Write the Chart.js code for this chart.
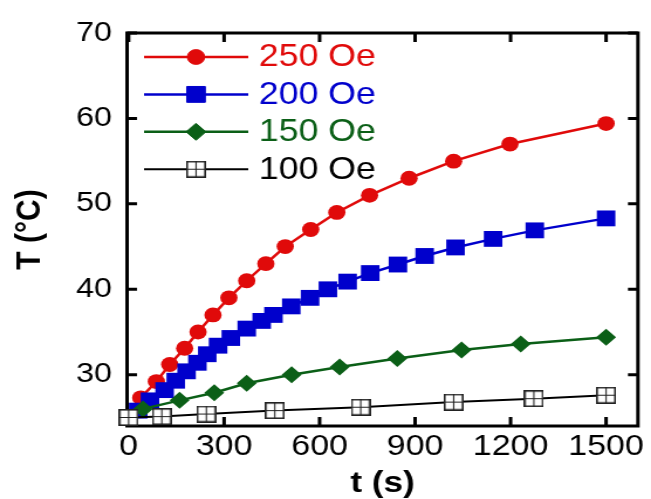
<!DOCTYPE html>
<html>
<head>
<meta charset="utf-8">
<script src="https://cdn.jsdelivr.net/npm/chart.js@4.4.1/dist/chart.umd.min.js"></script>
<style>
    html, body { margin: 0; padding: 0; background: #fff; overflow: hidden; }
    /* the source figure is stretched sideways, so the canvas is too */
    #chart { transform: scaleX(1.1709); transform-origin: 0 0; }
</style>
</head>
<body>
<canvas id="chart" width="556" height="499"></canvas>
<script>
const timeTicks = [0, 300, 600, 900, 1200, 1500];
const tempTicks = [30, 40, 50, 60, 70];
const fieldLabels = ['250 Oe', '200 Oe', '150 Oe', '100 Oe'];

const time250 = [38, 87, 129, 176, 218, 265, 315, 371, 431, 492, 572, 654, 757, 881, 1021, 1198, 1500];
const temp250 = [27.3, 29.2, 31.2, 33.1, 35.0, 37.0, 39.0, 41.0, 43.0, 45.0, 47.0, 49.0, 51.0, 53.0, 55.0, 57.0, 59.4];

const time200 = [30, 67, 113, 148, 182, 216, 247, 281, 321, 371, 418, 455, 511, 570, 626, 688, 759, 846, 930, 1027, 1145, 1276, 1500];
const temp200 = [25.8, 27.0, 28.2, 29.3, 30.4, 31.4, 32.4, 33.4, 34.3, 35.4, 36.3, 37.0, 38.0, 39.0, 40.0, 40.9, 41.9, 42.9, 43.9, 44.9, 45.9, 46.9, 48.3];

const time150 = [45, 160, 269, 371, 512, 663, 844, 1046, 1232, 1500];
const temp150 = [26.0, 27.0, 27.9, 29.0, 30.0, 30.9, 31.9, 32.9, 33.6, 34.4];

const time100 = [0, 104, 244, 459, 729, 1021, 1273, 1500];
const temp100 = [25.0, 25.1, 25.4, 25.8, 26.2, 26.8, 27.2, 27.6];

const FONT = '"Liberation Sans", Arial, sans-serif';

function toPoints(xs, ys) {
    return xs.map((x, i) => ({ x, y: ys[i] }));
}

// open square with a cross inside, used for the 100 Oe series
function makeBoxPlus(size) {
    const c = document.createElement('canvas');
    c.width = size;
    c.height = size;
    const g = c.getContext('2d');
    g.fillStyle = '#fff';
    g.fillRect(0, 0, size, size);
    g.strokeStyle = '#222';
    g.lineWidth = 1.6;
    g.strokeRect(0.8, 0.8, size - 1.6, size - 1.6);
    g.lineWidth = 1.1;
    g.beginPath();
    g.moveTo(size / 2, 1);
    g.lineTo(size / 2, size - 1);
    g.moveTo(1, size / 2);
    g.lineTo(size - 1, size / 2);
    g.stroke();
    return c;
}

const boxPlus = makeBoxPlus(17);

const framePlugin = {
    id: 'frame',
    beforeDatasetsDraw(chart) {
        const { ctx, chartArea: a, scales: { x, y } } = chart;
        ctx.save();
        ctx.strokeStyle = '#000';
        ctx.lineWidth = 3;
        ctx.strokeRect(a.left, a.top, a.right - a.left, a.bottom - a.top);
        ctx.beginPath();
        timeTicks.forEach((v) => {
            const px = x.getPixelForValue(v);
            ctx.moveTo(px, a.bottom);
            ctx.lineTo(px, a.bottom - 9);
            ctx.moveTo(px, a.top);
            ctx.lineTo(px, a.top + 9);
        });
        tempTicks.forEach((v) => {
            const py = y.getPixelForValue(v);
            ctx.moveTo(a.left, py);
            ctx.lineTo(a.left + 8.5, py);
            ctx.moveTo(a.right, py);
            ctx.lineTo(a.right - 8.5, py);
        });
        ctx.stroke();
        ctx.restore();
    },
};

const legendPlugin = {
    id: 'inlineLegend',
    afterDraw(chart) {
        const ctx = chart.ctx;
        ctx.save();
        chart.data.datasets.forEach((ds, i) => {
            const rowY = 57 + i * 37.4;
            ctx.strokeStyle = ds.borderColor;
            ctx.lineWidth = ds.borderWidth;
            ctx.beginPath();
            ctx.moveTo(123, rowY);
            ctx.lineTo(212, rowY);
            ctx.stroke();
            ctx.fillStyle = ds.pointBackgroundColor;
            ctx.strokeStyle = ds.pointBorderColor;
            ctx.lineWidth = 1;
            Chart.helpers.drawPoint(ctx, { pointStyle: ds.pointStyle, radius: ds.pointRadius, rotation: 0, borderWidth: 1 }, 167.4, rowY);
            ctx.fillStyle = ds.borderColor;
            ctx.font = '30.5px ' + FONT;
            ctx.textAlign = 'left';
            ctx.textBaseline = 'middle';
            ctx.fillText(ds.label, 221, rowY + 1);
        });
        ctx.restore();
    },
};

new Chart(document.getElementById('chart'), {
    type: 'line',
    data: {
        datasets: [
            {
                label: fieldLabels[0],
                data: toPoints(time250, temp250),
                borderColor: '#e00a0a',
                borderWidth: 2.5,
                pointStyle: 'circle',
                pointRadius: 7.4,
                pointBackgroundColor: '#e00a0a',
                pointBorderColor: '#e00a0a',
                pointBorderWidth: 0,
                order: 4,
            },
            {
                label: fieldLabels[1],
                data: toPoints(time200, temp200),
                borderColor: '#0000cc',
                borderWidth: 2.5,
                pointStyle: 'rect',
                pointRadius: 11.2,
                pointBackgroundColor: '#0000cc',
                pointBorderColor: '#0000cc',
                pointBorderWidth: 0,
                order: 3,
            },
            {
                label: fieldLabels[2],
                data: toPoints(time150, temp150),
                borderColor: '#0b5f17',
                borderWidth: 2.5,
                pointStyle: 'rectRot',
                pointRadius: 8.5,
                pointBackgroundColor: '#0b5f17',
                pointBorderColor: '#0b5f17',
                pointBorderWidth: 0,
                order: 2,
            },
            {
                label: fieldLabels[3],
                data: toPoints(time100, temp100),
                borderColor: '#000',
                borderWidth: 2,
                pointStyle: boxPlus,
                pointRadius: 8.5,
                pointBackgroundColor: '#fff',
                pointBorderColor: '#222',
                order: 1,
            },
        ],
    },
    options: {
        responsive: false,
        animation: false,
        events: [],
        devicePixelRatio: 1,
        layout: { padding: { left: 0, right: 6.8, top: 33, bottom: 0 } },
        elements: { line: { tension: 0 } },
        datasets: { line: { clip: false } },
        plugins: {
            legend: { display: false },
            tooltip: { enabled: false },
        },
        scales: {
            x: {
                type: 'linear',
                min: -5,
                max: 1600,
                afterBuildTicks: (scale) => { scale.ticks = timeTicks.map((v) => ({ value: v })); },
                afterFit: (scale) => { scale.height = 73; },
                grid: { display: false, drawTicks: false },
                border: { display: false },
                ticks: { color: '#000', padding: 4, maxRotation: 0, callback: (v) => String(v), font: { family: FONT, size: 29 } },
                title: {
                    display: true,
                    text: 't (s)',
                    color: '#000',
                    padding: { top: 0, bottom: -3 },
                    font: { family: FONT, size: 30, weight: 'bold' },
                },
            },
            y: {
                type: 'linear',
                min: 24,
                max: 70,
                afterBuildTicks: (scale) => { scale.ticks = tempTicks.map((v) => ({ value: v })); },
                afterFit: (scale) => { scale.width = 108.5; },
                grid: { display: false, drawTicks: false },
                border: { display: false },
                ticks: { color: '#000', padding: 13, font: { family: FONT, size: 27.5 } },
                title: {
                    display: true,
                    text: 'T (°C)',
                    color: '#000',
                    padding: { top: 7.6, bottom: 0 },
                    font: { family: FONT, size: 30, weight: 'bold' },
                },
            },
        },
    },
    plugins: [framePlugin, legendPlugin],
});
</script>
</body>
</html>
